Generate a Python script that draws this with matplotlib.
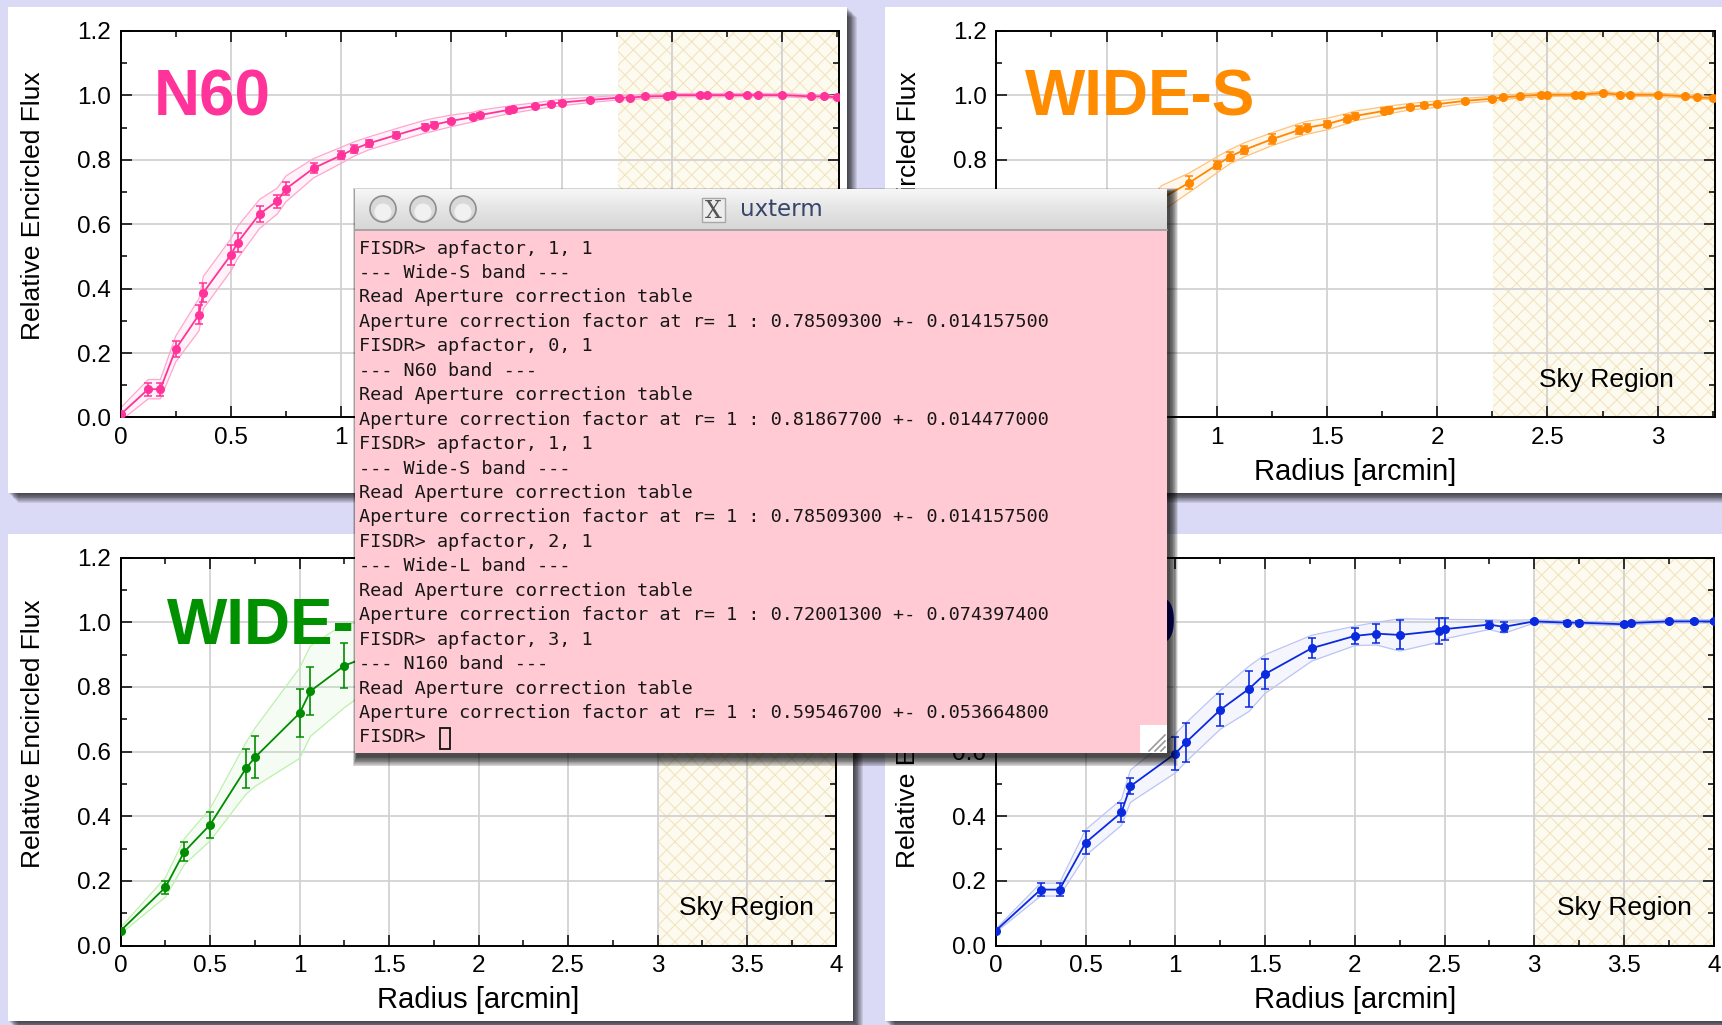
import numpy as np
import matplotlib
matplotlib.use('Agg')
import matplotlib.pyplot as plt
from matplotlib.patches import Rectangle, Circle
from matplotlib.colors import LinearSegmentedColormap
from matplotlib.ticker import MultipleLocator, FixedLocator, FixedFormatter

# ── figure size in pixels ─────────────────────────────────────
W, H = 1722, 1025
DPI = 100

plt.rcParams['font.family'] = ['Liberation Sans', 'DejaVu Sans']
plt.rcParams['hatch.linewidth'] = 0.8

# ── data: N60 (top left) ──────────────────────────────────────
n60_x = [0, 0.125, 0.18, 0.25, 0.355, 0.375, 0.5, 0.53, 0.63, 0.71, 0.75, 0.875,
         1.0, 1.06, 1.125, 1.25, 1.38, 1.42, 1.5, 1.6, 1.63, 1.76, 1.78, 1.88, 1.95,
         2.0, 2.13, 2.26, 2.31, 2.38, 2.48, 2.5, 2.63, 2.66, 2.76, 2.84, 2.89, 3.0,
         3.13, 3.19, 3.25]
n60_y = [0.01, 0.088, 0.088, 0.213, 0.319, 0.388, 0.505, 0.543, 0.632, 0.672, 0.71,
         0.774, 0.814, 0.834, 0.851, 0.877, 0.903, 0.909, 0.921, 0.933, 0.939, 0.955,
         0.957, 0.967, 0.974, 0.978, 0.986, 0.993, 0.993, 0.997, 0.998, 1.001, 1.001,
         1.001, 1.001, 1.001, 1.001, 1.001, 0.997, 0.997, 0.994]
n60_err = [0.005, 0.02, 0.02, 0.025, 0.03, 0.03, 0.03, 0.03, 0.025, 0.02, 0.02, 0.015,
           0.012, 0.012, 0.012, 0.01, 0.008, 0.008, 0.007, 0.006, 0.006, 0.005, 0.005,
           0.004, 0.004, 0.004, 0.003, 0.003, 0.003, 0.003, 0.003, 0.002, 0.002, 0.002,
           0.002, 0.002, 0.002, 0.002, 0.002, 0.002, 0.002]
n60_spread = [0.02, 0.03, 0.03, 0.04, 0.05, 0.05, 0.05, 0.05, 0.045, 0.04, 0.04, 0.03,
              0.025, 0.022, 0.02, 0.02, 0.02, 0.02, 0.018, 0.015, 0.015, 0.012, 0.012,
              0.01, 0.01, 0.01, 0.008, 0.007, 0.007, 0.006, 0.006, 0.005, 0.005, 0.005,
              0.005, 0.005, 0.005, 0.005, 0.005, 0.005, 0.005]

# ── data: WIDE-S (top right) ──────────────────────────────────
wides_x = [0, 0.125, 0.18, 0.25, 0.355, 0.375, 0.5, 0.53, 0.63, 0.71, 0.75, 0.875,
           1.0, 1.06, 1.125, 1.25, 1.375, 1.41, 1.5, 1.59, 1.625, 1.76, 1.78, 1.875,
           1.94, 2.0, 2.125, 2.25, 2.3, 2.375, 2.47, 2.5, 2.625, 2.65, 2.75, 2.83,
           2.875, 3.0, 3.125, 3.18, 3.25]
wides_y = [0.01, 0.08, 0.085, 0.2, 0.3, 0.36, 0.47, 0.51, 0.6, 0.65, 0.68, 0.729,
           0.784, 0.81, 0.831, 0.864, 0.893, 0.9, 0.911, 0.928, 0.936, 0.952, 0.955,
           0.965, 0.969, 0.973, 0.983, 0.99, 0.994, 0.998, 1.002, 1.002, 1.002, 1.002,
           1.008, 1.002, 1.002, 1.002, 0.997, 0.994, 0.992]
wides_err = [0.005, 0.02, 0.02, 0.025, 0.03, 0.03, 0.03, 0.03, 0.025, 0.02, 0.02, 0.02,
             0.012, 0.015, 0.012, 0.015, 0.012, 0.012, 0.01, 0.01, 0.01, 0.008, 0.008,
             0.006, 0.006, 0.005, 0.004, 0.004, 0.004, 0.003, 0.003, 0.003, 0.003, 0.003,
             0.003, 0.003, 0.003, 0.003, 0.003, 0.003, 0.003]
wides_spread = [0.02, 0.03, 0.03, 0.04, 0.05, 0.05, 0.05, 0.05, 0.045, 0.04, 0.04, 0.03,
                0.025, 0.022, 0.022, 0.02, 0.02, 0.02, 0.018, 0.016, 0.015, 0.013, 0.012,
                0.01, 0.01, 0.01, 0.008, 0.007, 0.007, 0.006, 0.006, 0.005, 0.005, 0.005,
                0.005, 0.005, 0.005, 0.005, 0.005, 0.005, 0.005]

# ── data: WIDE-L (bottom left) ────────────────────────────────
widel_x = [0, 0.25, 0.355, 0.5, 0.7, 0.75, 1.0, 1.06, 1.25, 1.41, 1.5, 1.76, 2.0,
           2.12, 2.25, 2.5, 2.75, 3.0, 3.25, 3.5, 3.75, 4.0]
widel_y = [0.046, 0.18, 0.29, 0.374, 0.548, 0.582, 0.719, 0.787, 0.866, 0.9, 0.92,
           0.95, 0.97, 0.975, 0.98, 0.99, 0.995, 1.0, 1.0, 1.0, 1.0, 1.0]
widel_err = [0.005, 0.02, 0.03, 0.04, 0.06, 0.065, 0.075, 0.075, 0.07, 0.06, 0.05,
             0.04, 0.03, 0.03, 0.02, 0.02, 0.01, 0.005, 0.005, 0.005, 0.005, 0.005]
widel_spread = [0.01, 0.03, 0.04, 0.05, 0.08, 0.09, 0.14, 0.14, 0.13, 0.1, 0.09, 0.06,
                0.05, 0.04, 0.03, 0.03, 0.02, 0.01, 0.01, 0.01, 0.01, 0.01]

# ── data: N160 (bottom right) ─────────────────────────────────
n160_x = [0, 0.25, 0.355, 0.5, 0.7, 0.75, 1.0, 1.06, 1.25, 1.41, 1.5, 1.76, 2.0,
          2.12, 2.25, 2.47, 2.5, 2.75, 2.83, 3.0, 3.18, 3.25, 3.5, 3.54, 3.75, 3.89, 4.0]
n160_y = [0.046, 0.173, 0.173, 0.318, 0.412, 0.493, 0.594, 0.629, 0.729, 0.794, 0.84,
          0.92, 0.958, 0.965, 0.961, 0.974, 0.979, 0.993, 0.986, 1.003, 0.999, 0.999,
          0.994, 0.998, 1.003, 1.003, 1.003]
n160_err = [0.005, 0.02, 0.02, 0.035, 0.03, 0.025, 0.05, 0.06, 0.05, 0.055, 0.045,
            0.03, 0.025, 0.03, 0.045, 0.04, 0.035, 0.012, 0.015, 0.004, 0.004, 0.004,
            0.004, 0.004, 0.004, 0.004, 0.004]
n160_spread = [0.005, 0.02, 0.02, 0.04, 0.04, 0.05, 0.06, 0.06, 0.06, 0.07, 0.06,
               0.04, 0.03, 0.035, 0.05, 0.035, 0.03, 0.015, 0.02, 0.005, 0.005, 0.005,
               0.005, 0.005, 0.005, 0.005, 0.005]

# tick labels (those hidden under the terminal window are left blank)
y_ticks = [0.0, 0.2, 0.4, 0.6, 0.8, 1.0, 1.2]
y_labels = ['0.0', '0.2', '0.4', '0.6', '0.8', '1.0', '1.2']
y_labels_tr = ['', '', '', '', '0.8', '1.0', '1.2']
y_labels_br = ['0.0', '0.2', '0.4', '0.6', '', '', '']
x_ticks_short = [0, 0.5, 1, 1.5, 2, 2.5, 3]
x_labels_tl = ['0', '0.5', '1', '', '', '', '']
x_labels_tr = ['', '', '1', '1.5', '2', '2.5', '3']
x_ticks_long = [0, 0.5, 1, 1.5, 2, 2.5, 3, 3.5, 4]
x_labels_long = ['0', '0.5', '1', '1.5', '2', '2.5', '3', '3.5', '4']

term_lines = [
    'FISDR> apfactor, 1, 1',
    '--- Wide-S band ---',
    'Read Aperture correction table',
    'Aperture correction factor at r= 1 : 0.78509300 +- 0.014157500',
    'FISDR> apfactor, 0, 1',
    '--- N60 band ---',
    'Read Aperture correction table',
    'Aperture correction factor at r= 1 : 0.81867700 +- 0.014477000',
    'FISDR> apfactor, 1, 1',
    '--- Wide-S band ---',
    'Read Aperture correction table',
    'Aperture correction factor at r= 1 : 0.78509300 +- 0.014157500',
    'FISDR> apfactor, 2, 1',
    '--- Wide-L band ---',
    'Read Aperture correction table',
    'Aperture correction factor at r= 1 : 0.72001300 +- 0.074397400',
    'FISDR> apfactor, 3, 1',
    '--- N160 band ---',
    'Read Aperture correction table',
    'Aperture correction factor at r= 1 : 0.59546700 +- 0.053664800',
    'FISDR> ',
]


def px_rect(l, t, r, b):
    return [l / W, 1 - b / H, (r - l) / W, (b - t) / H]


fig = plt.figure(figsize=(W / DPI, H / DPI), dpi=DPI)
fig.patch.set_facecolor('#dadaf6')

# ── background layer: white panels with drop shadows ─────────
bg = fig.add_axes([0, 0, 1, 1])
bg.set_xlim(0, W)
bg.set_ylim(H, 0)
bg.axis('off')

panels = [(8, 7, 847, 493), (885, 7, 1740, 493),
          (8, 534, 853, 1021), (885, 534, 1740, 1021)]
for (l, t, r, b) in panels:
    for k in range(1, 12):
        bg.add_patch(Rectangle((l + k * 0.9, t + k * 0.9), r - l, b - t, fc='black',
                               ec='none', alpha=0.09))
    bg.add_patch(Rectangle((l, t), r - l, b - t, fc='white', ec='none'))


def make_axes(rect, xmax, xt, xl, yl, sky_start, xlabel=True):
    ax = fig.add_axes(px_rect(*rect))
    ax.set_xlim(0, xmax)
    ax.set_ylim(0, 1.2)
    ax.set_axisbelow(True)
    ax.xaxis.set_major_locator(FixedLocator(xt))
    ax.xaxis.set_major_formatter(FixedFormatter(xl))
    ax.xaxis.set_minor_locator(MultipleLocator(0.25))
    ax.yaxis.set_major_locator(FixedLocator(y_ticks))
    ax.yaxis.set_major_formatter(FixedFormatter(yl))
    ax.yaxis.set_minor_locator(MultipleLocator(0.1))
    ax.tick_params(which='both', direction='in', top=True, right=True,
                   labelsize=17.5, pad=7, width=1.1)
    ax.tick_params(which='major', length=8)
    ax.tick_params(which='minor', length=4)
    ax.grid(True, which='major', color='#d2d2d2', lw=1.3)
    for s in ax.spines.values():
        s.set_linewidth(1.4)
    ax.axvspan(sky_start, xmax, facecolor='#fdfbf0', edgecolor='#f1e4bf',
               hatch='xx', lw=0, zorder=0.2)
    ax.text(-0.122, 0.547, 'Relative Encircled Flux', rotation=90, fontsize=19,
            ha='center', va='center', transform=ax.transAxes)
    if xlabel:
        ax.text(0.5, -0.141, 'Radius [arcmin]', fontsize=21, ha='center',
                va='center', transform=ax.transAxes)
    return ax


def draw_curve(ax, x, y, err, spread, color, faint):
    x = np.array(x)
    y = np.array(y)
    spread = np.array(spread)
    ax.fill_between(x, y - spread, y + spread, color=faint, alpha=0.14, lw=0,
                    zorder=2)
    ax.plot(x, y - spread, color=faint, lw=0.9, zorder=2)
    ax.plot(x, y + spread, color=faint, lw=0.9, zorder=2)
    ax.errorbar(x, y, yerr=err, fmt='-o', color=color, ms=5.5, lw=1.3,
                elinewidth=1.2, capsize=3, capthick=1.1, zorder=3)


def sky_label(ax, xfrac):
    ax.text(xfrac, 0.097, 'Sky Region', fontsize=19, ha='right', va='center',
            transform=ax.transAxes, zorder=4)


# N60 x label sits completely under the terminal window
ax1 = make_axes((120.7, 31, 839.3, 417.5), 3.26, x_ticks_short, x_labels_tl,
                y_labels, 2.255, xlabel=False)
draw_curve(ax1, n60_x, n60_y, n60_err, n60_spread, '#ff3399', '#ffa6cf')
ax1.text(0.15, 0.937, 'N60', color='#ff3399', fontsize=46, fontweight='bold',
         ha='left', va='baseline', zorder=5)

ax2 = make_axes((996.3, 31, 1715, 417.5), 3.26, x_ticks_short, x_labels_tr,
                y_labels_tr, 2.255)
draw_curve(ax2, wides_x, wides_y, wides_err, wides_spread, '#ff8800', '#ffc27a')
ax2.text(0.13, 0.937, 'WIDE-S', color='#ff8c00', fontsize=46, fontweight='bold',
         ha='left', va='baseline', zorder=5)
sky_label(ax2, 0.943)

ax3 = make_axes((120.7, 557.7, 836.5, 945.5), 4.0, x_ticks_long, x_labels_long,
                y_labels, 3.0)
draw_curve(ax3, widel_x, widel_y, widel_err, widel_spread, '#008c00', '#bdf0ad')
ax3.text(0.26, 0.934, 'WIDE-L', color='#009000', fontsize=46, fontweight='bold',
         ha='left', va='baseline', zorder=5)
sky_label(ax3, 0.969)

ax4 = make_axes((995.8, 557.7, 1713.8, 945.5), 4.0, x_ticks_long, x_labels_long,
                y_labels_br, 3.0)
draw_curve(ax4, n160_x, n160_y, n160_err, n160_spread, '#0a2ae0', '#bcc4f4')
ax4.text(1.01, 0.934, 'N160', color='#0a0a96', fontsize=46, fontweight='bold',
         ha='right', va='baseline', zorder=5)
sky_label(ax4, 0.969)

# ── overlay: uxterm window ────────────────────────────────────
ov = fig.add_axes([0, 0, 1, 1])
ov.set_zorder(10)
ov.patch.set_alpha(0)
ov.set_xlim(0, W)
ov.set_ylim(H, 0)
ov.axis('off')

tl, tt, tr, tb = 355, 189, 1167, 753
bar_b = 230
for k in range(1, 14):
    ov.add_patch(Rectangle((tl + 2 - k * 0.3, tt + 3 - k * 0.3),
                           (tr - tl) + k * 1.0, (tb - tt) + k * 1.1,
                           fc='black', ec='none', alpha=0.085))

grad = np.linspace(0, 1, 64).reshape(-1, 1)
bar_cmap = LinearSegmentedColormap.from_list('bar', ['#f7f7f7', '#e4e4e4', '#d6d6d6'])
ov.imshow(grad, extent=(tl, tr, bar_b, tt), aspect='auto', cmap=bar_cmap, zorder=2)
ov.set_xlim(0, W)
ov.set_ylim(H, 0)
ov.plot([tl, tr], [bar_b, bar_b], color='#9c9c9c', lw=1.2, zorder=3)
ov.add_patch(Rectangle((tl, bar_b), tr - tl, tb - bar_b, fc='#ffcad4', ec='none',
                       zorder=2))

for cx in [383, 423, 463]:
    ov.add_patch(Circle((cx, 209), 13, fc='#d8d8d8', ec='#8e8e8e', lw=1.2, zorder=4))
    ov.add_patch(Circle((cx, 212), 8.5, fc='#f4f4f4', ec='none', alpha=0.9, zorder=4))

ov.add_patch(Rectangle((702, 198), 23, 24, fc='#ededed', ec='#a8a8a8', lw=1, zorder=4))
ov.text(713.5, 211, 'X', family=['DejaVu Serif'], fontsize=17, color='#555555',
        ha='center', va='center', zorder=5)
ov.text(740, 210, 'uxterm', family=['DejaVu Sans'], fontsize=16.5, color='#36466a',
        ha='left', va='center', zorder=5)

for i, line in enumerate(term_lines):
    ov.text(359, 248.5 + i * 24.45, line, family=['DejaVu Sans Mono'], fontsize=13.3,
            color='#161616', ha='left', va='center', zorder=5)
ov.add_patch(Rectangle((440, 728), 9.5, 20.5, fill=False, ec='#111111', lw=1.3,
                       zorder=5))

# resize grip
ov.add_patch(Rectangle((1140, 725), 27, 28, fc='white', ec='none', zorder=4))
for d in [0, 6, 12]:
    ov.plot([1149 + d, 1165], [751, 735 + d], color='#9a9a9a', lw=1.2, zorder=5)

fig.savefig('out.png', dpi=DPI, facecolor=fig.get_facecolor())
